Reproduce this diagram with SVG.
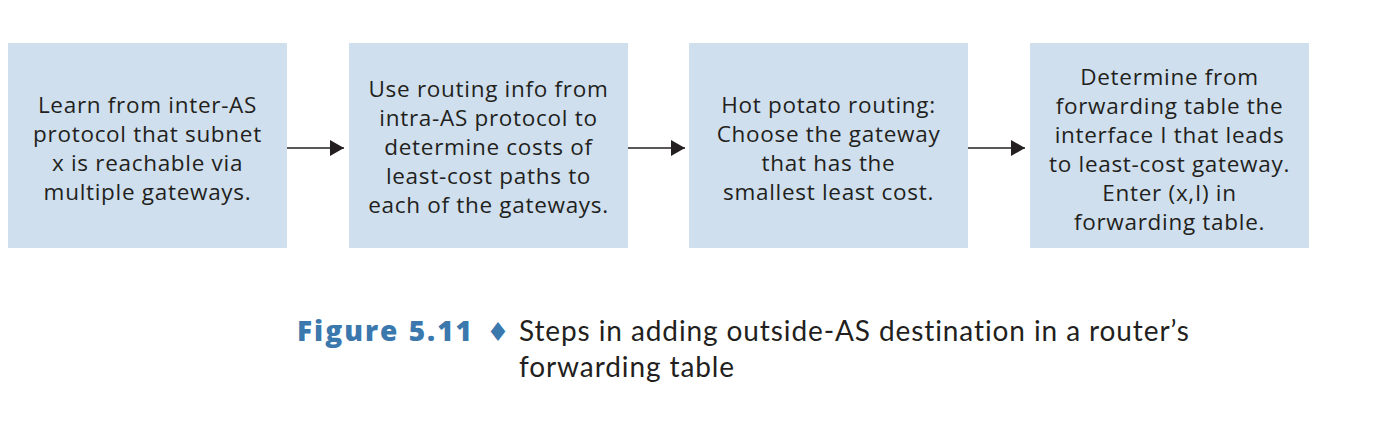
<svg xmlns="http://www.w3.org/2000/svg" width="1386" height="422" viewBox="0 0 1386 422">
<defs>
<style>
.box{fill:#cfdfee;}
.t{font-family:"Open Sans","Noto Sans",sans-serif;font-size:22.5px;letter-spacing:0.7px;fill:#231f20;text-anchor:middle;}
.conn{stroke:#231f20;stroke-width:1.6;fill:none;}
.fig{font-family:"Open Sans","Noto Sans",sans-serif;font-size:28px;font-weight:800;letter-spacing:2px;fill:#3a78ad;}
.cap{font-family:"Lato","Noto Sans",sans-serif;font-size:28px;letter-spacing:0.9px;fill:#231f20;}
</style>
<marker id="ah" viewBox="0 0 14 16" refX="14" refY="8" markerWidth="14" markerHeight="16" markerUnits="userSpaceOnUse" orient="auto">
<path d="M0,0 L14,8 L0,16 Z" fill="#231f20"/>
</marker>
</defs>
<rect width="1386" height="422" fill="#ffffff"/>
<g id="node1">
<rect class="box" x="8" y="43" width="279" height="205"/>
<text class="t" x="147.5" y="113">Learn from inter-AS</text>
<text class="t" x="147.5" y="142">protocol that subnet</text>
<text class="t" x="147.5" y="171">x is reachable via</text>
<text class="t" x="147.5" y="200">multiple gateways.</text>
</g>
<g id="node2">
<rect class="box" x="349" y="43" width="279" height="205"/>
<text class="t" x="488.5" y="97">Use routing info from</text>
<text class="t" x="488.5" y="126">intra-AS protocol to</text>
<text class="t" x="488.5" y="155">determine costs of</text>
<text class="t" x="488.5" y="184">least-cost paths to</text>
<text class="t" x="488.5" y="213">each of the gateways.</text>
</g>
<g id="node3">
<rect class="box" x="689" y="43" width="279" height="205"/>
<text class="t" x="828.5" y="113">Hot potato routing:</text>
<text class="t" x="828.5" y="142">Choose the gateway</text>
<text class="t" x="828.5" y="171">that has the</text>
<text class="t" x="828.5" y="200">smallest least cost.</text>
</g>
<g id="node4">
<rect class="box" x="1030" y="43" width="279" height="205"/>
<text class="t" x="1169.5" y="85">Determine from</text>
<text class="t" x="1169.5" y="114">forwarding table the</text>
<text class="t" x="1169.5" y="143">interface I that leads</text>
<text class="t" x="1169.5" y="172">to least-cost gateway.</text>
<text class="t" x="1169.5" y="201">Enter (x,I) in</text>
<text class="t" x="1169.5" y="230">forwarding table.</text>
</g>
<g id="connectors">
<line class="conn" x1="287" y1="148" x2="344" y2="148" marker-end="url(#ah)"/>
<line class="conn" x1="628" y1="148" x2="685" y2="148" marker-end="url(#ah)"/>
<line class="conn" x1="968" y1="148" x2="1025" y2="148" marker-end="url(#ah)"/>
</g>
<g id="caption">
<text class="fig" x="297" y="341">Figure 5.11</text>
<text x="498" y="341" text-anchor="middle" font-family="DejaVu Sans,sans-serif" font-size="26" fill="#3a78ad">♦</text>
<text class="cap" x="519" y="341">Steps in adding outside-AS destination in a router’s</text>
<text class="cap" x="519" y="377">forwarding table</text>
</g>
</svg>
